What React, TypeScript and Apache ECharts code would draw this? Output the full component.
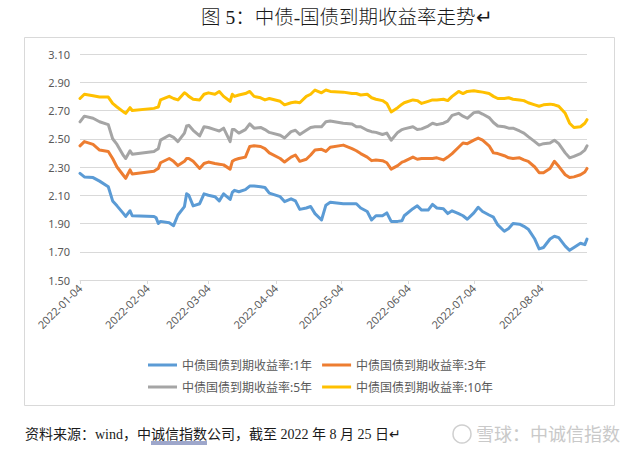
import React, { useEffect, useRef } from 'react';
import * as echarts from 'echarts';

const dates = [
  '2022-01-04', '2022-01-06', '2022-01-10', '2022-01-13', '2022-01-17', '2022-01-19', '2022-01-21', '2022-01-24', '2022-01-25', '2022-01-27', '2022-01-28',
  '2022-02-07', '2022-02-08', '2022-02-09', '2022-02-10', '2022-02-14', '2022-02-16', '2022-02-18', '2022-02-21', '2022-02-22', '2022-02-23', '2022-02-25', '2022-02-28',
  '2022-03-02', '2022-03-04', '2022-03-07', '2022-03-09', '2022-03-11', '2022-03-14', '2022-03-15', '2022-03-16', '2022-03-18', '2022-03-21', '2022-03-23', '2022-03-25', '2022-03-28', '2022-03-30',
  '2022-04-01', '2022-04-06', '2022-04-08', '2022-04-11', '2022-04-13', '2022-04-15', '2022-04-18', '2022-04-20', '2022-04-22', '2022-04-25', '2022-04-27', '2022-04-29',
  '2022-05-05', '2022-05-09', '2022-05-11', '2022-05-13', '2022-05-16', '2022-05-18', '2022-05-20', '2022-05-23', '2022-05-25', '2022-05-27', '2022-05-30',
  '2022-06-01', '2022-06-02', '2022-06-06', '2022-06-08', '2022-06-10', '2022-06-13', '2022-06-15', '2022-06-17', '2022-06-20', '2022-06-22', '2022-06-24', '2022-06-27', '2022-06-29',
  '2022-07-01', '2022-07-04', '2022-07-06', '2022-07-08', '2022-07-11', '2022-07-13', '2022-07-15', '2022-07-18', '2022-07-20', '2022-07-22', '2022-07-25', '2022-07-27', '2022-07-29',
  '2022-08-01', '2022-08-03', '2022-08-05', '2022-08-08', '2022-08-10', '2022-08-12', '2022-08-15', '2022-08-17', '2022-08-19', '2022-08-22', '2022-08-24', '2022-08-25',
];

const yield1Y = [
  2.255, 2.23, 2.225, 2.2, 2.16, 2.06, 2.025, 1.97, 1.95, 1.99, 1.955,
  1.95, 1.94, 1.9, 1.915, 1.905, 1.885, 1.96, 2.02, 2.11, 2.1, 2.025, 2.04,
  2.11, 2.1, 2.09, 2.06, 2.11, 2.07, 2.12, 2.135, 2.125, 2.14, 2.165, 2.165, 2.16, 2.155,
  2.115, 2.09, 2.055, 2.075, 2.06, 2.0, 2.01, 2.02, 1.97, 1.925, 2.03, 2.05,
  2.04, 2.04, 2.04, 2.01, 1.985, 1.925, 1.955, 1.955, 1.975, 1.915, 1.915,
  1.92, 1.955, 2.005, 2.025, 1.995, 1.995, 2.035, 2.01, 2.005, 1.97, 1.99, 1.97, 1.955,
  1.93, 1.975, 2.015, 1.985, 1.96, 1.945, 1.89, 1.845, 1.865, 1.9, 1.895, 1.88, 1.86,
  1.79, 1.72, 1.73, 1.79, 1.81, 1.8, 1.74, 1.71, 1.73, 1.76, 1.75, 1.79,
];

const yield3Y = [
  2.45, 2.48, 2.46, 2.42, 2.41, 2.36, 2.3, 2.24, 2.22, 2.28, 2.25,
  2.27, 2.28, 2.29, 2.33, 2.36, 2.34, 2.31, 2.34, 2.36, 2.36, 2.34, 2.29,
  2.325, 2.335, 2.325, 2.32, 2.315, 2.285, 2.34, 2.35, 2.36, 2.37, 2.445, 2.45, 2.445, 2.43,
  2.4, 2.36, 2.335, 2.37, 2.385, 2.34, 2.355, 2.385, 2.42, 2.425, 2.41, 2.44,
  2.455, 2.43, 2.415, 2.395, 2.37, 2.345, 2.35, 2.345, 2.33, 2.285, 2.31,
  2.335, 2.34, 2.37, 2.355, 2.36, 2.36, 2.36, 2.365, 2.35, 2.37, 2.395, 2.44, 2.47,
  2.465, 2.49, 2.505, 2.49, 2.45, 2.4, 2.395, 2.38, 2.365, 2.36, 2.365, 2.35, 2.34,
  2.3, 2.26, 2.26, 2.29, 2.34, 2.305, 2.245, 2.225, 2.23, 2.245, 2.265, 2.29,
];

const yield5Y = [
  2.62, 2.66, 2.645, 2.62, 2.6, 2.5, 2.46, 2.38, 2.36, 2.415, 2.39,
  2.41, 2.42, 2.43, 2.49, 2.525, 2.51, 2.48, 2.54, 2.59, 2.595, 2.56, 2.52,
  2.585, 2.58, 2.565, 2.555, 2.575, 2.48, 2.565, 2.565, 2.54, 2.565, 2.605, 2.575, 2.58, 2.565,
  2.545, 2.525, 2.505, 2.55, 2.56, 2.53, 2.56, 2.58, 2.585, 2.585, 2.62, 2.625,
  2.61, 2.605, 2.585, 2.585, 2.56, 2.55, 2.545, 2.53, 2.54, 2.49, 2.545,
  2.565, 2.57, 2.585, 2.565, 2.57, 2.59, 2.61, 2.6, 2.61, 2.625, 2.665, 2.68, 2.66,
  2.645, 2.685, 2.69, 2.675, 2.65, 2.615, 2.59, 2.585, 2.575, 2.575, 2.555, 2.54, 2.515,
  2.48, 2.455, 2.465, 2.47, 2.49, 2.465, 2.4, 2.365, 2.375, 2.395, 2.42, 2.45,
];

const yield10Y = [
  2.785, 2.815, 2.805, 2.795, 2.795, 2.75, 2.725, 2.69, 2.68, 2.72, 2.7,
  2.715, 2.72, 2.725, 2.775, 2.8, 2.785, 2.775, 2.825, 2.815, 2.8, 2.78, 2.775,
  2.815, 2.825, 2.815, 2.835, 2.8, 2.765, 2.815, 2.8, 2.81, 2.82, 2.835, 2.8, 2.79, 2.775,
  2.785, 2.765, 2.74, 2.755, 2.76, 2.755, 2.8, 2.815, 2.845, 2.825, 2.845, 2.835,
  2.83, 2.82, 2.82, 2.81, 2.815, 2.79, 2.78, 2.77, 2.75, 2.69, 2.72,
  2.745, 2.755, 2.775, 2.77, 2.75, 2.765, 2.775, 2.775, 2.78, 2.77, 2.8, 2.835, 2.82,
  2.835, 2.84, 2.835, 2.83, 2.82, 2.8, 2.785, 2.785, 2.79, 2.78, 2.775, 2.77, 2.755,
  2.74, 2.73, 2.74, 2.745, 2.74, 2.73, 2.68, 2.61, 2.58, 2.585, 2.61, 2.635,
];

const seriesNames = [
  '中债国债到期收益率:1年',
  '中债国债到期收益率:3年',
  '中债国债到期收益率:5年',
  '中债国债到期收益率:10年',
];
const seriesColors = ['#5B9BD5', '#ED7D31', '#A5A5A5', '#FFC000'];

const xTickLabels = ['2022-01-04', '2022-02-04', '2022-03-04', '2022-04-04', '2022-05-04', '2022-06-04', '2022-07-04', '2022-08-04'];
const xStart = '2022-01-04';
const xEnd = '2022-08-25';
const yTickLabels = [1.5, 1.7, 1.9, 2.1, 2.3, 2.5, 2.7, 2.9, 3.1];
const yMin = 1.5;
const yMax = 3.1;

const titleText = '图 5：中债-国债到期收益率走势↵';
const sourcePrefix = '资料来源：wind，中';
const sourceLinked = '诚信指数';
const sourceRest = '公司，截至 2022 年 8 月 25 日↵';
const watermarkText = '雪球：中诚信指数';

function toTime(s: string): number {
  const [y, m, d] = s.split('-').map(Number);
  return new Date(y, m - 1, d).getTime();
}
function pad(n: number) {
  return n < 10 ? '0' + n : '' + n;
}
function fmtDate(v: number): string {
  const d = new Date(v);
  return d.getFullYear() + '-' + pad(d.getMonth() + 1) + '-' + pad(d.getDate());
}

export default function App() {
  const ref = useRef<HTMLDivElement>(null);
  useEffect(() => {
    if (!ref.current) return;
    const chart = echarts.init(ref.current, undefined, { renderer: 'svg' });
    const allSeries = [yield1Y, yield3Y, yield5Y, yield10Y];
    const xTicks = xTickLabels.map(toTime);
    const sans = "'Noto Sans', 'Noto Sans CJK SC', sans-serif";
    const serif = "'Liberation Serif', 'Noto Sans CJK SC', serif";
    const footFont = `14px ${serif}`;

    const cv = document.createElement('canvas').getContext('2d')!;
    cv.font = footFont;
    const footX = 25;
    const ulStart = footX + cv.measureText(sourcePrefix).width;
    const ulEnd = ulStart + cv.measureText(sourceLinked).width;

    chart.setOption({
      animation: false,
      backgroundColor: '#ffffff',
      grid: { left: 80, top: 54, width: 507, height: 226, outerBoundsMode: 'none' },
      xAxis: {
        type: 'value',
        min: toTime(xStart),
        max: toTime(xEnd),
        axisLine: { show: true, lineStyle: { color: '#d9d9d9', width: 1 } },
        axisTick: { show: true, customValues: xTicks, length: 4, lineStyle: { color: '#d9d9d9' } },
        axisLabel: {
          customValues: xTicks,
          rotate: 45,
          formatter: (v: number) => fmtDate(v),
          color: '#595959',
          fontSize: 11,
          fontFamily: sans,
          margin: 6,
          hideOverlap: false,
        },
        splitLine: { show: false },
      },
      yAxis: {
        type: 'value',
        min: yMin,
        max: yMax,
        axisLine: { show: false },
        axisTick: { show: false, customValues: yTickLabels },
        axisLabel: {
          customValues: yTickLabels,
          formatter: (v: number) => v.toFixed(2),
          color: '#595959',
          fontSize: 11,
          fontFamily: sans,
          margin: 10,
        },
        splitLine: { show: true, lineStyle: { color: '#d9d9d9', width: 1 } },
      },
      legend: [
        {
          data: [seriesNames[0], seriesNames[1]],
          left: 143,
          top: 354,
          itemWidth: 29,
          itemHeight: 3,
          itemGap: 10,
          icon: 'rect',
          textStyle: { color: '#595959', fontSize: 12, fontFamily: sans },
        },
        {
          data: [seriesNames[2], seriesNames[3]],
          left: 143,
          top: 376,
          itemWidth: 29,
          itemHeight: 3,
          itemGap: 10,
          icon: 'rect',
          textStyle: { color: '#595959', fontSize: 12, fontFamily: sans },
        },
      ],
      series: allSeries.map((vals, i) => ({
        name: seriesNames[i],
        type: 'line',
        showSymbol: false,
        symbol: 'none',
        color: seriesColors[i],
        lineStyle: { width: 3, color: seriesColors[i], cap: 'round', join: 'round' },
        data: dates.map((d, j) => [toTime(d), vals[j]]),
        z: 2 + i,
      })),
      graphic: [
        {
          type: 'rect',
          shape: { x: 24.5, y: 37.5, width: 590, height: 368 },
          style: { fill: 'none', stroke: '#d9d9d9', lineWidth: 1 },
          silent: true,
        },
        {
          type: 'text',
          x: 201,
          y: 17,
          style: { text: titleText, font: `300 19.5px ${serif}`, fill: '#1a1a1a', verticalAlign: 'middle', align: 'left' },
        },
        {
          type: 'text',
          x: footX,
          y: 434,
          style: { text: sourcePrefix + sourceLinked + sourceRest, font: footFont, fill: '#1a1a1a', verticalAlign: 'middle', align: 'left' },
        },
        {
          type: 'line',
          shape: { x1: ulStart, y1: 442, x2: ulEnd, y2: 442 },
          style: { stroke: '#3c4f96', lineWidth: 1 },
        },
        {
          type: 'line',
          shape: { x1: ulStart, y1: 444, x2: ulEnd, y2: 444 },
          style: { stroke: '#3c4f96', lineWidth: 1 },
        },
        {
          type: 'circle',
          shape: { cx: 462, cy: 434, r: 9 },
          style: { fill: 'none', stroke: '#cfcfcf', lineWidth: 1.5 },
        },
        {
          type: 'text',
          x: 476,
          y: 434,
          style: { text: watermarkText, font: `18px ${sans}`, fill: '#c9c9c9', verticalAlign: 'middle', align: 'left' },
        },
      ],
    });
    return () => chart.dispose();
  }, []);
  return (
    <div
      ref={ref}
      style={{ position: 'absolute', left: 0, top: 0, width: 640, height: 451, background: '#fff' }}
    />
  );
}
